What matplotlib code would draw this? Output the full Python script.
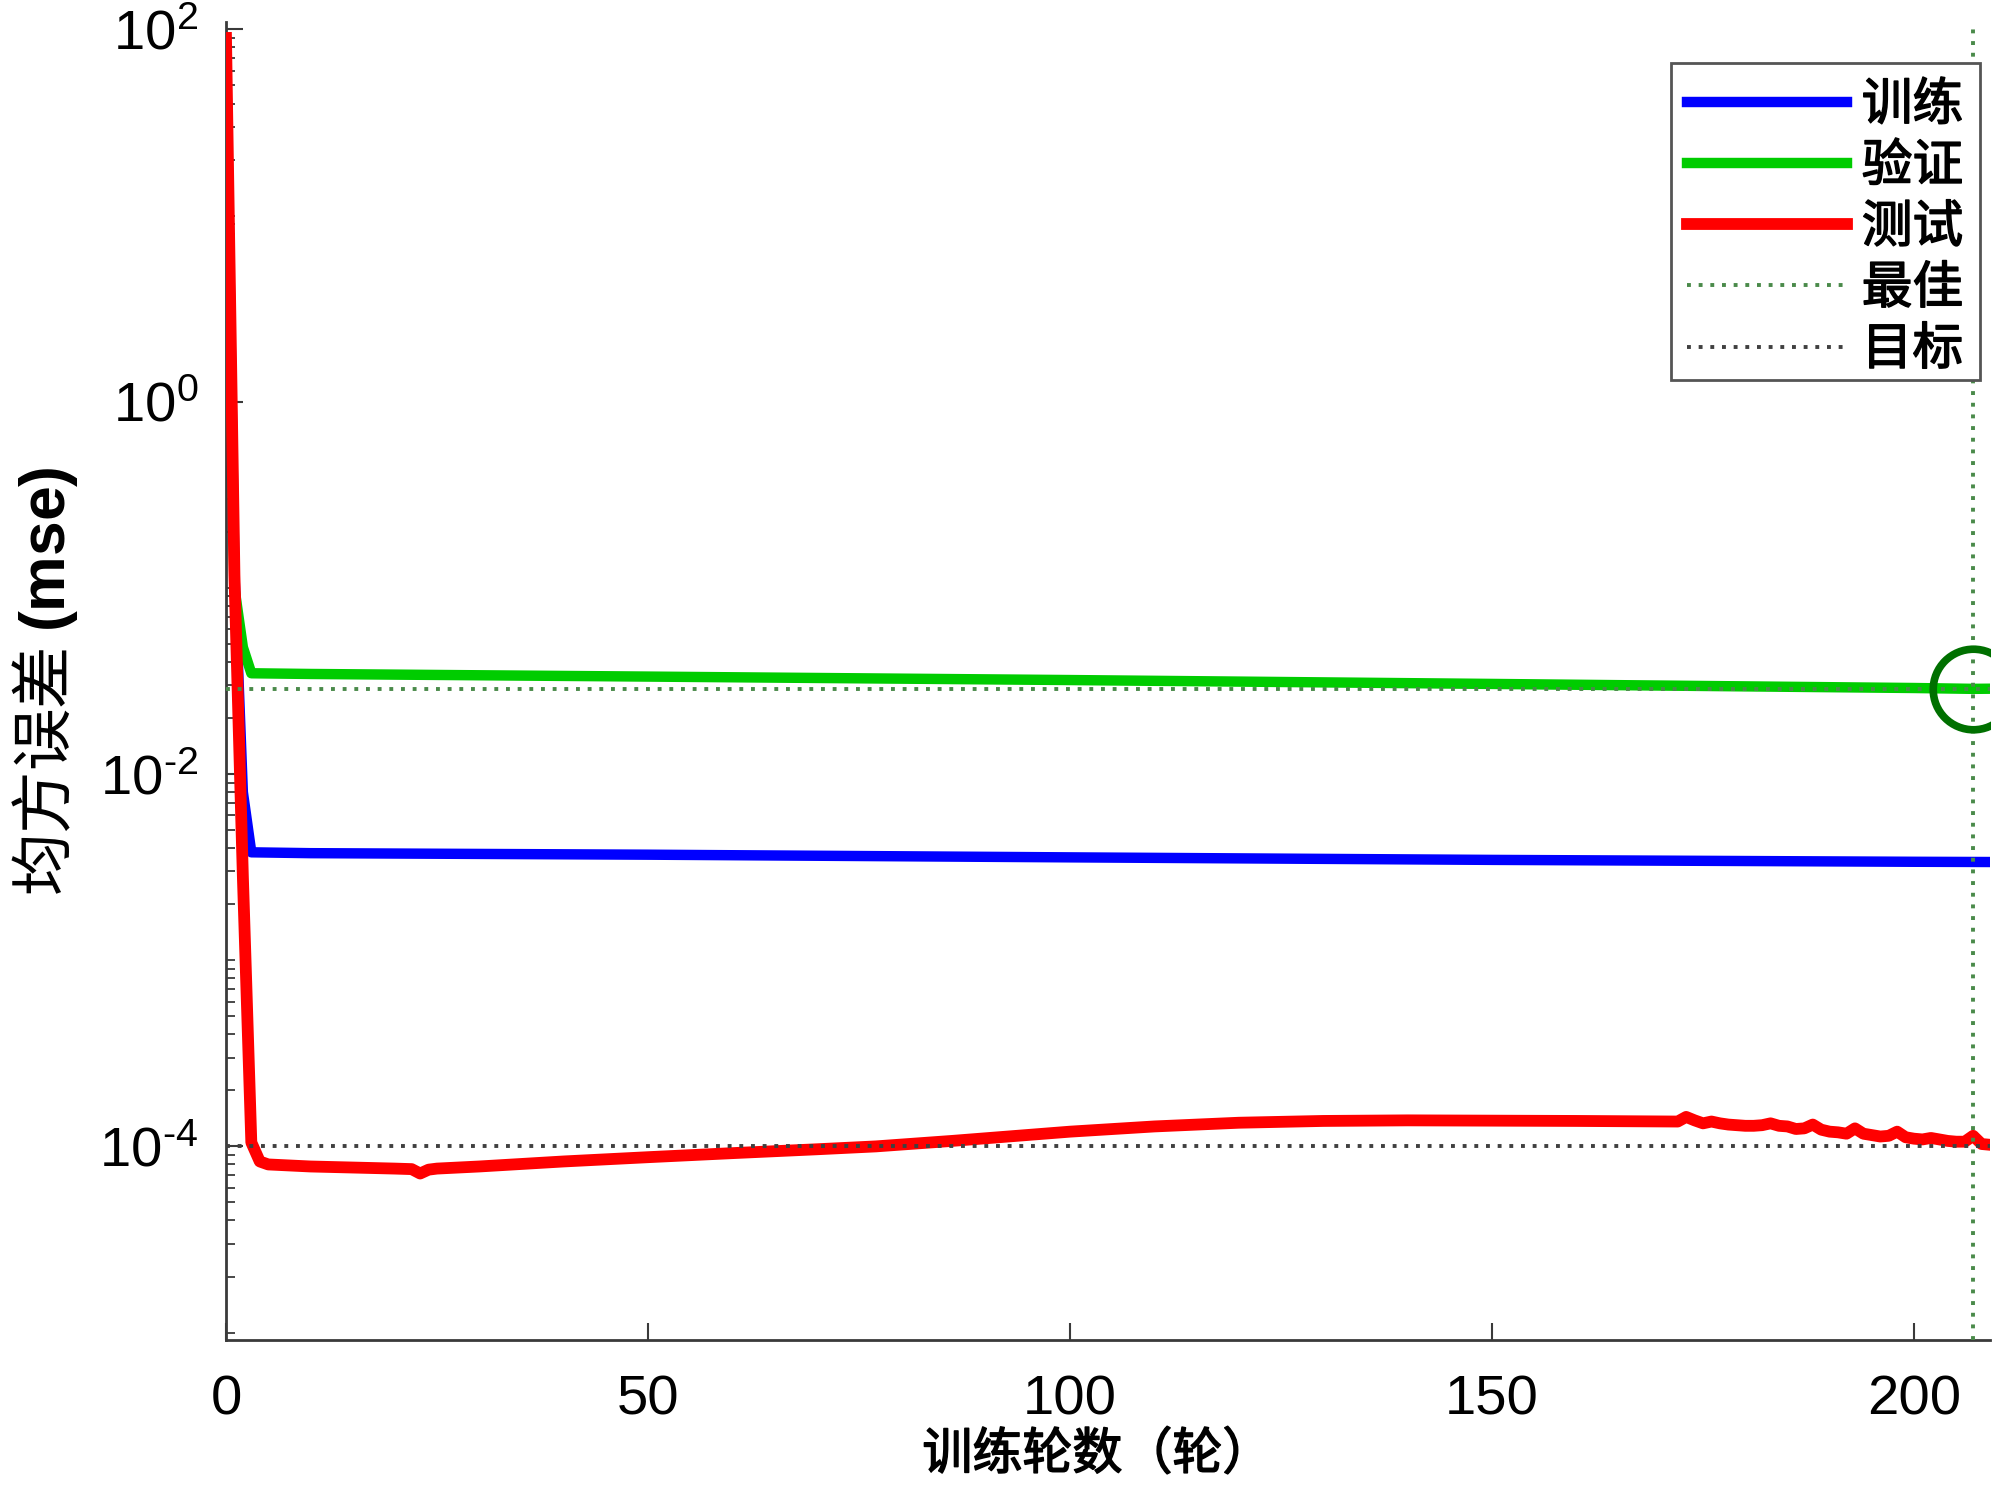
import numpy as np
import matplotlib
matplotlib.use('Agg')
import matplotlib.pyplot as plt
import matplotlib.patheffects as pe
from matplotlib.patches import Rectangle
from matplotlib.transforms import IdentityTransform
from matplotlib.ticker import LogLocator, NullFormatter
from matplotlib.font_manager import FontProperties

# ---------------- data ----------------
epochs_train = [0, 1, 2, 3, 10, 50, 100, 150, 200, 209]
train_mse = [80, 0.12, 0.008, 3.8e-3, 3.76e-3, 3.69e-3, 3.57e-3, 3.46e-3, 3.38e-3, 3.37e-3]

epochs_val = [0, 1, 2, 3, 10, 50, 100, 150, 200, 207, 209]
val_mse = [80, 0.1, 0.048, 0.0348, 0.0345, 0.0334, 0.0320, 0.0305, 0.0290, 0.0287, 0.02875]

epochs_test = [0, 1, 2, 3, 4, 5, 10, 15, 20, 22, 23, 24, 25, 30, 40, 50, 60, 70, 77, 86,
               100, 110, 120, 130, 140, 150, 160, 172, 173, 174, 175, 176, 177, 178, 179,
               180, 181, 182, 183, 184, 185, 186, 187, 188, 189, 190, 191, 192, 193, 194,
               195, 196, 197, 198, 199, 200, 201, 202, 203, 204, 205, 206, 207, 208, 209]
test_mse = [90, 0.117, 0.0028, 1.05e-4, 8.3e-5, 8.0e-5, 7.8e-5, 7.7e-5, 7.6e-5, 7.55e-5,
            7.15e-5, 7.5e-5, 7.6e-5, 7.8e-5, 8.3e-5, 8.75e-5, 9.2e-5, 9.65e-5, 1.0e-4, 1.07e-4,
            1.2e-4, 1.28e-4, 1.34e-4, 1.37e-4, 1.38e-4, 1.375e-4, 1.37e-4, 1.36e-4, 1.44e-4,
            1.38e-4, 1.33e-4, 1.36e-4, 1.33e-4, 1.31e-4, 1.30e-4, 1.29e-4, 1.29e-4, 1.30e-4,
            1.33e-4, 1.29e-4, 1.28e-4, 1.24e-4, 1.25e-4, 1.31e-4, 1.23e-4, 1.20e-4, 1.19e-4,
            1.17e-4, 1.25e-4, 1.17e-4, 1.15e-4, 1.13e-4, 1.14e-4, 1.20e-4, 1.12e-4, 1.10e-4,
            1.09e-4, 1.11e-4, 1.09e-4, 1.07e-4, 1.06e-4, 1.06e-4, 1.14e-4, 1.03e-4, 1.02e-4]

best_epoch = 207
best_val = 0.0287
goal_mse = 1e-4

legend_labels = ['训练', '验证', '测试', '最佳', '目标']
xlabel_text = '训练轮数（轮）'
ylabel_text = '均方误差 $\\mathbf{(mse)}$'
xtick_vals = [0, 50, 100, 150, 200]
xtick_labels = ['0', '50', '100', '150', '200']
ytick_vals = [1e-4, 1e-2, 1e0, 1e2]
ytick_labels = ['$10^{\\text{-}4}$', '$10^{\\text{-}2}$', '$10^{0}$', '$10^{2}$']

# ---------------- style ----------------
plt.rcParams['mathtext.fontset'] = 'custom'
plt.rcParams['mathtext.rm'] = 'Liberation Sans'
plt.rcParams['mathtext.it'] = 'Liberation Sans:italic'
plt.rcParams['mathtext.bf'] = 'Liberation Sans:bold'
plt.rcParams['font.family'] = ['Liberation Sans', 'Noto Sans CJK SC', 'DejaVu Sans']

axis_col = '#3a3a3a'
dot_style = (0, (1, 2.0))
heavier = [pe.withStroke(linewidth=1.1, foreground='black')]

fig = plt.figure(figsize=(20, 14.9), dpi=100)
ax = fig.add_axes([0.113, 0.10067, 0.882, 0.88456])
ax.set_yscale('log')

l_train, = ax.plot(epochs_train, train_mse, color=(0, 0, 1), lw=7.5, zorder=3)
l_val, = ax.plot(epochs_val, val_mse, color=(0, 0.8, 0), lw=7.5, zorder=3)
l_test, = ax.plot(epochs_test, test_mse, color=(1, 0, 0), lw=8.5, zorder=4)

l_best = ax.axvline(best_epoch, color='#4a8a4a', lw=2.8, ls=dot_style, zorder=5)
ax.axhline(best_val, color='#4a8a4a', lw=2.8, ls=dot_style, zorder=5)
l_goal = ax.axhline(goal_mse, color='#404040', lw=2.8, ls=dot_style, zorder=5)
ax.plot([best_epoch], [best_val], marker='o', ms=58, mfc='none', mec='#007000',
        mew=5.5, ls='none', zorder=6)

ax.set_xlim(0, 209)
ax.set_ylim(10 ** -5.04, 10 ** 2.04)

ax.set_xticks(xtick_vals)
ax.set_xticklabels(xtick_labels)
ax.set_yticks(ytick_vals)
ax.set_yticklabels(ytick_labels)
ax.yaxis.set_minor_locator(LogLocator(base=10, subs=np.arange(1, 10), numticks=100))
ax.yaxis.set_minor_formatter(NullFormatter())

for s in ['top', 'right']:
    ax.spines[s].set_visible(False)
for s in ['left', 'bottom']:
    ax.spines[s].set_color(axis_col)
    ax.spines[s].set_linewidth(2)

ax.tick_params(axis='both', which='major', direction='in', length=12, width=1.5,
               color=axis_col, labelcolor='black', labelsize=40.5)
ax.tick_params(axis='x', which='major', pad=25)
ax.tick_params(axis='y', which='major', pad=20)
ax.tick_params(axis='y', which='minor', direction='in', length=6.5, width=1.3, color=axis_col)
ax.tick_params(top=False, right=False)

ax.set_xlabel(xlabel_text, fontsize=36, family=['Noto Sans CJK SC'])
ax.xaxis.label.set_path_effects(heavier)
ax.xaxis.label.set_verticalalignment('center')
ax.xaxis.set_label_coords(0.494, -0.0873)
ax.set_ylabel(ylabel_text, fontsize=45, family=['Noto Sans CJK SC', 'Liberation Sans'])
ax.yaxis.label.set_verticalalignment('center')
ax.yaxis.set_label_coords(-0.1026, 0.5)

leg = ax.legend([l_train, l_val, l_test, l_best, l_goal], legend_labels,
                loc='upper right', bbox_to_anchor=(0.99, 0.9577),
                bbox_transform=fig.transFigure, borderaxespad=0,
                prop=FontProperties(family=['Noto Sans CJK SC'], size=36.5),
                handlelength=3.14, handletextpad=0.3, labelspacing=0.18,
                borderpad=0.33, frameon=False)
leg.set_zorder(10)
for t in leg.get_texts():
    t.set_path_effects(heavier)

# legend frame: drawn around the legend box (tighter at the bottom, as in the reference)
fig.canvas.draw()
bb = leg.get_window_extent(fig.canvas.get_renderer())
frame = Rectangle((bb.x0, bb.y0 + 13), bb.width, bb.height - 13,
                  transform=IdentityTransform(), facecolor='white', edgecolor='#555555',
                  linewidth=2, zorder=9, clip_on=False)
ax.add_artist(frame)

fig.savefig('out.png', dpi=100, facecolor='white')
